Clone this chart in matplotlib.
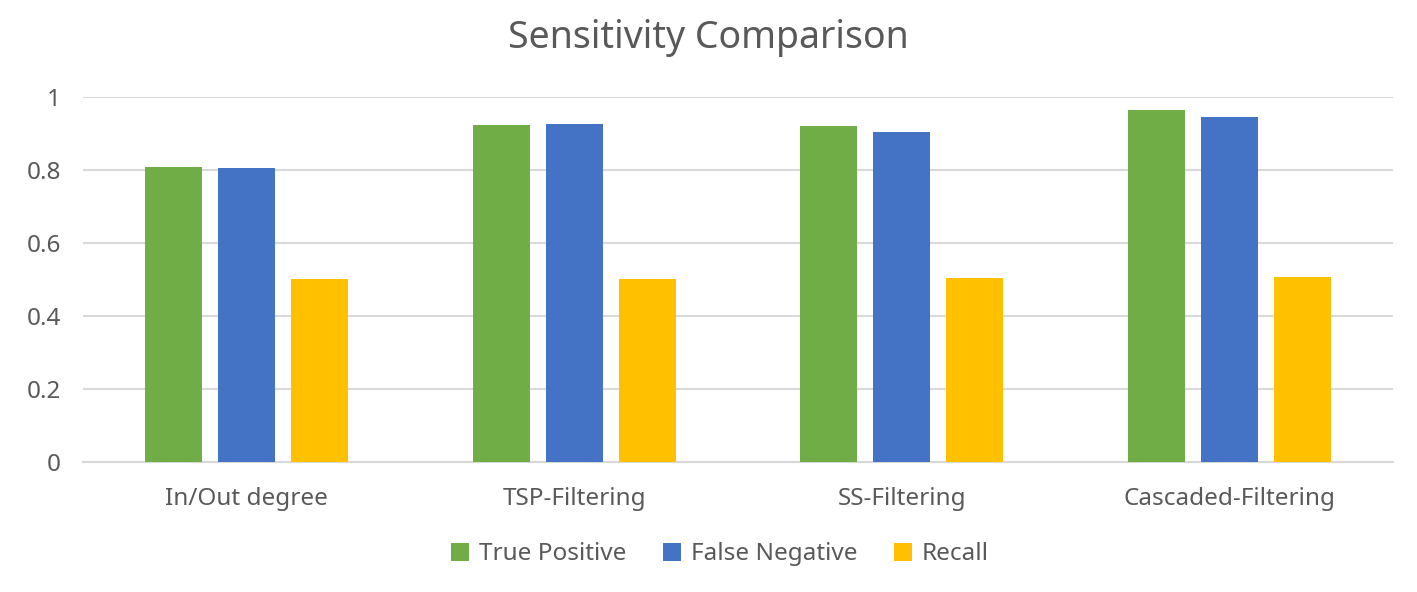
import numpy as np
import matplotlib.pyplot as plt

plt.rcParams['font.family'] = ['Noto Sans', 'DejaVu Sans']

# Données
categories = ['In/Out degree', 'TSP-Filtering', 'SS-Filtering', 'Cascaded-Filtering']
true_positive = [0.807, 0.922, 0.920, 0.963]
false_negative = [0.805, 0.925, 0.903, 0.944]
recall = [0.500, 0.500, 0.503, 0.506]
series_names = ['True Positive', 'False Negative', 'Recall']
yticks = [0, 0.2, 0.4, 0.6, 0.8, 1]
ytick_labels = ['0', '0.2', '0.4', '0.6', '0.8', '1']

colors = ['#70AD47', '#4472C4', '#FFC000']
text_color = '#595959'

fig = plt.figure(figsize=(14.17, 5.92), dpi=100)
ax = fig.add_axes([0.0586, 0.22, 0.9245, 0.6167])

x = np.arange(len(categories))
w = 0.174
step = 0.223
for k, (vals, name) in enumerate(zip([true_positive, false_negative, recall], series_names)):
    ax.bar(x + (k - 1) * step, vals, width=w, color=colors[k], label=name, zorder=3)

ax.set_xlim(-0.5, len(categories) - 0.5)
ax.set_ylim(0, 1)
ax.set_yticks(yticks)
ax.set_yticklabels(ytick_labels)
ax.set_xticks(x)
ax.set_xticklabels(categories)
ax.tick_params(axis='both', length=0, labelsize=17.5, colors=text_color)
ax.tick_params(axis='x', pad=18)
ax.tick_params(axis='y', pad=16)

ax.grid(axis='y', color='#D9D9D9', linewidth=1.5, zorder=0)
for s in ['top', 'right', 'left']:
    ax.spines[s].set_visible(False)
ax.spines['bottom'].set_color('#D9D9D9')
ax.spines['bottom'].set_linewidth(1.5)

fig.suptitle('Sensitivity Comparison', fontsize=27, color=text_color, y=0.968)
fig.legend(loc='center', bbox_to_anchor=(0.508, 0.064), ncol=3, frameon=False,
           fontsize=17.5, labelcolor=text_color, handlelength=0.75, handleheight=0.75,
           handletextpad=0.4, columnspacing=1.5)

plt.savefig('out.png')
